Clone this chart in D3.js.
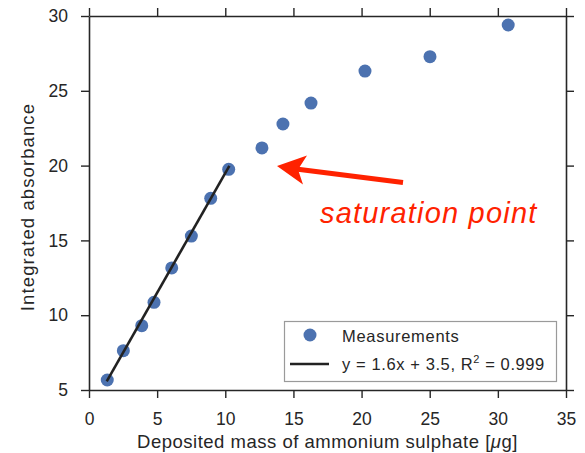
<!DOCTYPE html>
<html>
<head>
<meta charset="utf-8">
<script src="https://cdn.jsdelivr.net/npm/d3@7"></script>
<style>
  html, body { margin: 0; padding: 0; background: #fff; }
  svg { display: block; font-family: "Liberation Sans", Arial, Helvetica, sans-serif; }
</style>
</head>
<body>
<svg id="chart" width="585" height="453"></svg>
<script>
// Calibration measurements: deposited mass [µg] vs integrated absorbance
const massValues = [1.34, 2.52, 3.87, 4.77, 6.07, 7.51, 8.93, 10.25, 12.69, 14.23, 16.29, 20.25, 25.02, 30.76];
const absorbanceValues = [5.67, 7.63, 9.30, 10.86, 13.16, 15.29, 17.81, 19.75, 21.18, 22.78, 24.18, 26.32, 27.28, 29.40];

// Linear fit over the linear range
const fitSlope = 1.6;
const fitIntercept = 3.5;
const fitRange = [1.3, 10.3];

const xTicks = [0, 5, 10, 15, 20, 25, 30, 35];
const yTicks = [5, 10, 15, 20, 25, 30];

(function () {
  const svg = d3.select("#chart");
  const m = { left: 89, right: 566, top: 16, bottom: 390 };
  const ink = "#262626";

  const x = d3.scaleLinear().domain([0, 35]).range([m.left, m.right]);
  const y = d3.scaleLinear().domain([5, 30]).range([m.bottom, m.top]);

  // Axes on all four sides with outward ticks
  const axisStyle = g => {
    g.selectAll(".domain").attr("stroke", ink).attr("stroke-width", 1.6);
    g.selectAll(".tick line").attr("stroke", ink).attr("stroke-width", 1.4);
    g.selectAll("text").attr("fill", ink).attr("font-size", 17.5)
      .attr("font-family", "'Liberation Sans', Arial, sans-serif");
  };

  svg.append("g").attr("transform", `translate(0,${m.bottom})`)
    .call(d3.axisBottom(x).tickValues(xTicks).tickSize(8).tickPadding(15).tickSizeOuter(0))
    .call(axisStyle);
  svg.append("g").attr("transform", `translate(0,${m.top})`)
    .call(d3.axisTop(x).tickValues(xTicks).tickSize(8).tickFormat("").tickSizeOuter(0))
    .call(axisStyle);
  svg.append("g").attr("transform", `translate(${m.left},0)`)
    .call(d3.axisLeft(y).tickValues(yTicks).tickSize(8).tickPadding(13).tickSizeOuter(0))
    .call(axisStyle);
  svg.append("g").attr("transform", `translate(${m.right},0)`)
    .call(d3.axisRight(y).tickValues(yTicks).tickSize(8).tickFormat("").tickSizeOuter(0))
    .call(axisStyle);

  // Measurement points
  svg.append("g").selectAll("circle")
    .data(massValues.map((v, i) => [v, absorbanceValues[i]]))
    .join("circle")
    .attr("cx", d => x(d[0])).attr("cy", d => y(d[1]))
    .attr("r", 6.5).attr("fill", "#4c72b0");

  // Fit line drawn over the points
  svg.append("line")
    .attr("x1", x(fitRange[0])).attr("y1", y(fitSlope * fitRange[0] + fitIntercept))
    .attr("x2", x(fitRange[1])).attr("y2", y(fitSlope * fitRange[1] + fitIntercept))
    .attr("stroke", "#222").attr("stroke-width", 2.6);

  // Axis titles
  const xt = svg.append("text")
    .attr("x", (m.left + m.right) / 2).attr("y", 448)
    .attr("text-anchor", "middle").attr("font-size", 18.5).attr("letter-spacing", 0.5)
    .attr("fill", ink);
  xt.append("tspan").text("Deposited mass of ammonium sulphate [");
  xt.append("tspan").attr("font-style", "italic").text("\u03bc");
  xt.append("tspan").text("g]");

  svg.append("text")
    .attr("transform", `translate(34,207) rotate(-90)`)
    .attr("text-anchor", "middle").attr("font-size", 18.5).attr("letter-spacing", 1.1)
    .attr("fill", ink)
    .text("Integrated absorbance");

  // Legend
  const lg = svg.append("g");
  lg.append("rect").attr("x", 284.5).attr("y", 321.5).attr("width", 272).attr("height", 60)
    .attr("fill", "#fff").attr("stroke", "#9a9a9a").attr("stroke-width", 1.2);
  lg.append("circle").attr("cx", 310).attr("cy", 335).attr("r", 6.5).attr("fill", "#4c72b0");
  lg.append("line").attr("x1", 290).attr("x2", 329).attr("y1", 364).attr("y2", 364)
    .attr("stroke", "#222").attr("stroke-width", 2.6);
  lg.append("text").attr("x", 342).attr("y", 341.5).attr("font-size", 16.5)
    .attr("letter-spacing", 0.7).attr("fill", ink)
    .text("Measurements");
  const eq = lg.append("text").attr("x", 342).attr("y", 369.5).attr("font-size", 16.5)
    .attr("letter-spacing", 0.6).attr("fill", ink);
  eq.append("tspan").text("y = 1.6x + 3.5, R");
  eq.append("tspan").attr("font-size", 11).attr("dy", -7).text("2");
  eq.append("tspan").attr("dy", 7).text(" = 0.999");

  // Annotation arrow
  const red = "#ff2200";
  svg.append("line").attr("x1", 403).attr("y1", 182.5).attr("x2", 296).attr("y2", 169)
    .attr("stroke", red).attr("stroke-width", 5);
  svg.append("path")
    .attr("d", "M277,166 L307,155.5 L298,169.5 L303,184.5 Z")
    .attr("fill", red);

  svg.append("text").attr("x", 320).attr("y", 223)
    .attr("font-size", 29).attr("letter-spacing", 1.2).attr("font-style", "italic").attr("fill", red)
    .text("saturation point");
})();
</script>
</body>
</html>
